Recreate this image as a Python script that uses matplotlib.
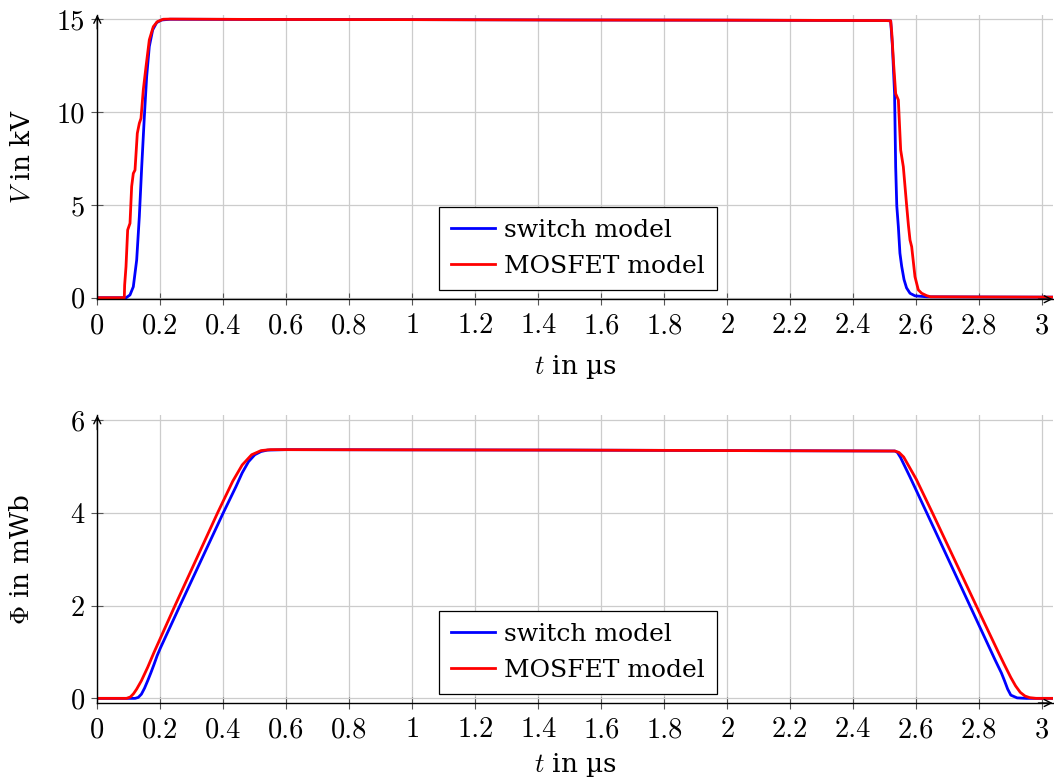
import matplotlib
matplotlib.use("Agg")
import matplotlib.pyplot as plt
from matplotlib.ticker import FixedLocator, FuncFormatter

# ---------------- data ----------------
# top panel: voltage in kV vs time in us
t_v_switch = [0.0, 0.0915, 0.1038, 0.1143, 0.125, 0.1334, 0.141, 0.1493, 0.1567,
              0.1651, 0.1757, 0.1884, 0.2042, 0.2308, 0.5, 1.0, 1.5, 2.0, 2.5,
              2.5186, 2.524, 2.531, 2.5345, 2.538, 2.543, 2.548, 2.5535, 2.561,
              2.569, 2.58, 2.596, 2.633, 2.8, 3.033]
v_switch = [0.0, 0.0, 0.15, 0.59, 2.03, 4.37, 7.06, 9.75, 11.92,
            13.54, 14.43, 14.83, 14.97, 15.01, 15.0, 14.99, 14.97, 14.96, 14.94,
            14.93, 13.6, 11.0, 7.06, 4.96, 3.83, 2.4, 1.7, 0.98,
            0.53, 0.24, 0.1, 0.05, 0.04, 0.03]

t_v_mosfet = [0.0, 0.0857, 0.0868, 0.0911, 0.0964, 0.1038, 0.1091, 0.1143, 0.1197,
              0.127, 0.1334, 0.1387, 0.146, 0.1546, 0.1651, 0.1778, 0.1905, 0.2095,
              0.2308, 0.5, 1.0, 1.5, 2.0, 2.5, 2.5186, 2.522, 2.528, 2.5345, 2.543,
              2.5504, 2.5588, 2.5694, 2.575, 2.58, 2.5853, 2.5958, 2.6064, 2.617,
              2.633, 2.645, 2.8, 3.033]
v_mosfet = [0.0, 0.0, 0.68, 1.67, 3.65, 4.01, 6.0, 6.7, 6.88,
            8.86, 9.4, 9.67, 11.2, 12.45, 13.9, 14.61, 14.88, 15.01,
            15.02, 15.0, 14.99, 14.97, 14.96, 14.94, 14.93, 14.3, 12.6, 11.0, 10.66,
            7.96, 7.06, 4.96, 3.9, 3.11, 2.75, 1.13, 0.42, 0.24,
            0.11, 0.05, 0.04, 0.03]

# bottom panel: flux in mWb vs time in us
t_phi_switch = [0.0, 0.12, 0.13, 0.14, 0.15, 0.16, 0.17, 0.18, 0.19, 0.2, 0.2625, 0.4,
                0.44, 0.46, 0.48, 0.5, 0.52, 0.54, 0.6, 1.0, 1.5, 2.0, 2.532,
                2.54, 2.55, 2.56, 2.58, 2.6, 2.633, 2.77, 2.85, 2.87, 2.88, 2.89, 2.9,
                2.92, 2.95, 3.033]
phi_switch = [0.0, 0.0, 0.02, 0.09, 0.22, 0.38, 0.55, 0.73, 0.92, 1.08, 2.0, 4.0,
              4.56, 4.86, 5.1, 5.25, 5.32, 5.35, 5.36, 5.355, 5.35, 5.34, 5.33,
              5.3, 5.19, 5.05, 4.77, 4.48, 4.0, 2.0, 0.83, 0.55, 0.38, 0.2, 0.07,
              0.01, 0.0, 0.0]

t_phi_mosfet = [0.0, 0.093, 0.105, 0.115, 0.125, 0.14, 0.16, 0.18, 0.2467, 0.382,
                0.43, 0.46, 0.49, 0.52, 0.55, 0.6, 1.0, 1.5, 2.0, 2.532,
                2.545, 2.56, 2.575, 2.59, 2.6, 2.651, 2.79, 2.86, 2.88, 2.9, 2.915,
                2.93, 2.945, 2.96, 2.98, 3.033]
phi_mosfet = [0.0, 0.0, 0.03, 0.1, 0.2, 0.38, 0.67, 0.99, 2.0, 4.0,
              4.68, 5.03, 5.25, 5.34, 5.36, 5.36, 5.355, 5.35, 5.34, 5.33,
              5.3, 5.2, 5.02, 4.84, 4.72, 4.0, 2.0, 1.0, 0.72, 0.45, 0.27,
              0.13, 0.05, 0.015, 0.0, 0.0]

series_labels = ["switch model", "MOSFET model"]
series_colors = ["#0000ff", "#ff0000"]

x_ticks = [0, 0.2, 0.4, 0.6, 0.8, 1, 1.2, 1.4, 1.6, 1.8, 2, 2.2, 2.4, 2.6, 2.8, 3]
v_ticks = [0, 5, 10, 15]
phi_ticks = [0, 2, 4, 6]

# ---------------- styling ----------------
plt.rcParams['mathtext.fontset'] = 'cm'
plt.rcParams['axes.formatter.use_mathtext'] = True

TICK_FONT = dict(family='cmr10', size=20.5)
LABEL_FONT = 'DejaVu Serif'
LABEL_SIZE = 19
LEGEND_SIZE = 18

fig = plt.figure(figsize=(10.54, 7.83), dpi=100)
W, H = 1054.0, 783.0
left = 97.3 / W
width = 955.4 / W
ax1 = fig.add_axes([left, 1 - 299.2 / H, width, (299.2 - 14.8) / H])
ax2 = fig.add_axes([left, 1 - 703.0 / H, width, (703.0 - 415.3) / H])


def style_axes(ax, yticks, ylim, ylabel):
    ax.set_xlim(0, 3.033)
    ax.set_ylim(*ylim)
    ax.xaxis.set_major_locator(FixedLocator(x_ticks))
    ax.yaxis.set_major_locator(FixedLocator(yticks))
    fmt = FuncFormatter(lambda v, p: ('%g' % v))
    ax.xaxis.set_major_formatter(fmt)
    ax.yaxis.set_major_formatter(fmt)
    for lab in ax.get_xticklabels() + ax.get_yticklabels():
        lab.set_fontfamily(TICK_FONT['family'])
        lab.set_fontsize(TICK_FONT['size'])
    ax.tick_params(direction='inout', length=8, width=0.8, color='#555555',
                   labelcolor='black')
    ax.tick_params(axis='x', pad=6)
    ax.tick_params(axis='y', pad=5)
    ax.grid(True, color='#cccccc', linewidth=0.9)
    ax.set_axisbelow(True)
    for s in ('top', 'right'):
        ax.spines[s].set_visible(False)
    for s in ('left', 'bottom'):
        ax.spines[s].set_color('black')
        ax.spines[s].set_linewidth(1.0)
    ax.annotate('', xy=(1.0, 0.0), xytext=(0.985, 0.0), xycoords='axes fraction',
                arrowprops=dict(arrowstyle='->,head_length=0.5,head_width=0.25',
                                color='black', lw=1.0, shrinkA=0, shrinkB=0))
    ax.annotate('', xy=(0.0, 1.0), xytext=(0.0, 0.95), xycoords='axes fraction',
                arrowprops=dict(arrowstyle='->,head_length=0.5,head_width=0.25',
                                color='black', lw=1.0, shrinkA=0, shrinkB=0))
    ax.set_xlabel(r'$t$ in µs', fontfamily=LABEL_FONT, fontsize=LABEL_SIZE)
    ax.set_ylabel(ylabel, fontfamily=LABEL_FONT, fontsize=LABEL_SIZE)


style_axes(ax1, v_ticks, (-0.08, 15.25), r'$V$ in kV')
style_axes(ax2, phi_ticks, (-0.1, 6.1), r'$\Phi$ in mWb')

ax1.plot(t_v_switch, v_switch, color=series_colors[0], lw=2.0, label=series_labels[0])
ax1.plot(t_v_mosfet, v_mosfet, color=series_colors[1], lw=2.0, label=series_labels[1])
ax2.plot(t_phi_switch, phi_switch, color=series_colors[0], lw=2.0, label=series_labels[0])
ax2.plot(t_phi_mosfet, phi_mosfet, color=series_colors[1], lw=2.0, label=series_labels[1])

xlabel_y = {ax1: -0.188, ax2: -0.168}
for ax in (ax1, ax2):
    h_px = ax.get_position().height * H
    leg = ax.legend(loc='lower center', bbox_to_anchor=(0.5 + 3.0 / 955.4, 9.0 / h_px),
                    borderaxespad=0, frameon=True, fancybox=False,
                    prop=dict(family=LABEL_FONT, size=LEGEND_SIZE),
                    handlelength=1.75, handletextpad=0.35, borderpad=0.48,
                    labelspacing=0.53)
    leg.get_frame().set_edgecolor('black')
    leg.get_frame().set_linewidth(0.9)
    leg.get_frame().set_alpha(None)
    leg.get_frame().set_facecolor('white')
    ax.xaxis.set_label_coords(0.5, xlabel_y[ax])
    ax.yaxis.set_label_coords(-0.066, 0.5)

fig.savefig('out.png', dpi=100)
